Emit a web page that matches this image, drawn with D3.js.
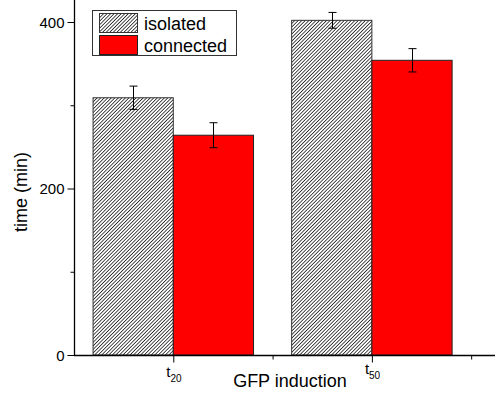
<!DOCTYPE html>
<html>
<head>
<meta charset="utf-8">
<script src="https://d3js.org/d3.v7.min.js"></script>
<style>
  body { margin: 0; background: #fff; }
  text { font-family: "Liberation Sans", Arial, sans-serif; fill: #000; }
</style>
</head>
<body>
<svg id="chart" width="495" height="394"></svg>
<script>
// data
var categories = ["20", "50"];          // subscripts of t
var seriesNames = ["isolated", "connected"];
var isolated = [309, 402];
var isolatedErr = [14, 9.5];
var connected = [264, 354];
var connectedErr = [15, 14];
var yTicks = [0, 200, 400];
var yMinorTicks = [100, 300];

var svg = d3.select("#chart");

var x = d3.scaleLinear().domain([0.5, 2.62]).range([74, 495]);
var y = d3.scaleLinear().domain([0, 400]).range([355, 22]);
var barW = 0.404;

// hatch pattern
var hs = 2.5;
svg.append("defs").append("pattern")
    .attr("id", "hatch")
    .attr("patternUnits", "userSpaceOnUse")
    .attr("width", hs)
    .attr("height", hs)
    .attr("patternTransform", "rotate(45)")
  .call(function(p) {
    p.append("rect").attr("width", hs).attr("height", hs).attr("fill", "#fff");
    p.append("line").attr("x1", 0).attr("y1", 0).attr("x2", 0).attr("y2", hs)
      .attr("stroke", "#111").attr("stroke-width", 1.5);
  });

var series = [
  {name: "isolated", values: isolated, err: isolatedErr, fill: "url(#hatch)", stroke: "#333", off: -1},
  {name: "connected", values: connected, err: connectedErr, fill: "#ff0000", stroke: "#222", off: 0}
];

series.forEach(function(s) {
  var g = svg.append("g");
  g.selectAll("rect")
    .data(s.values)
    .enter().append("rect")
      .attr("x", function(d, i) { return x(i + 1 + s.off * barW); })
      .attr("y", function(d) { return y(d); })
      .attr("width", x(barW) - x(0))
      .attr("height", function(d) { return y(0) - y(d); })
      .attr("fill", s.fill)
      .attr("stroke", s.stroke)
      .attr("stroke-width", 1);

  // error bars
  s.values.forEach(function(d, i) {
    var cx = Math.round(x(i + 1 + (s.off + 0.5) * barW)) + 0.5;
    var e = s.err[i];
    g.append("line").attr("x1", cx).attr("x2", cx)
      .attr("y1", y(d + e)).attr("y2", y(d - e))
      .attr("stroke", "#000").attr("stroke-width", 1);
    [d + e, d - e].forEach(function(v) {
      g.append("line").attr("x1", cx - 4).attr("x2", cx + 4)
        .attr("y1", y(v)).attr("y2", y(v))
        .attr("stroke", "#000").attr("stroke-width", 1);
    });
  });
});

// y axis
var yAxis = svg.append("g")
    .attr("transform", "translate(74.5,0)")
    .call(d3.axisLeft(y).tickValues(yTicks).tickSize(7).tickFormat(d3.format("d")));
yAxis.select(".domain").attr("d", "M0,0V355.5").attr("stroke-width", 1.3);
yAxis.selectAll("text").style("font-size", "15px").attr("x", -10).attr("dy", "0.35em");
svg.append("g")
    .attr("transform", "translate(74.5,0)")
    .call(d3.axisLeft(y).tickValues(yMinorTicks).tickSize(4).tickFormat(""))
  .select(".domain").remove();

// x axis
var xAxis = svg.append("g")
    .attr("transform", "translate(0,355.5)")
    .call(d3.axisBottom(x).tickValues([1, 2]).tickSize(7).tickFormat(""));
xAxis.select(".domain").attr("d", "M74,0H495").attr("stroke-width", 1.3);
svg.append("g")
    .attr("transform", "translate(0,355.5)")
    .call(d3.axisBottom(x).tickValues([1.5, 2.5]).tickSize(4).tickFormat(""))
  .select(".domain").remove();

// category labels t with subscript
categories.forEach(function(c, i) {
  var t = svg.append("text")
      .attr("x", x(i + 1) - 7)
      .attr("y", 377 - i * 3)
      .style("font-size", "15px");
  t.append("tspan").text("t");
  t.append("tspan").attr("dy", 5).style("font-size", "10px").text(c);
});

// axis titles
svg.append("text")
    .attr("x", 290)
    .attr("y", 387)
    .attr("text-anchor", "middle")
    .style("font-size", "18px")
    .text("GFP induction");

svg.append("text")
    .attr("transform", "translate(27,192) rotate(-90)")
    .attr("text-anchor", "middle")
    .style("font-size", "18px")
    .text("time (min)");

// legend
var legend = svg.append("g");
legend.append("rect")
    .attr("x", 92.5).attr("y", 10.5).attr("width", 144).attr("height", 45)
    .attr("fill", "#fff").attr("stroke", "#333").attr("stroke-width", 1);
seriesNames.forEach(function(n, i) {
  var s = series[i];
  legend.append("rect")
      .attr("x", 99.5).attr("y", 13.5 + i * 22).attr("width", 38).attr("height", 19)
      .attr("fill", s.fill).attr("stroke", s.stroke);
  legend.append("text")
      .attr("x", 144).attr("y", 29.5 + i * 22)
      .style("font-size", "18px")
      .text(n);
});
</script>
</body>
</html>
